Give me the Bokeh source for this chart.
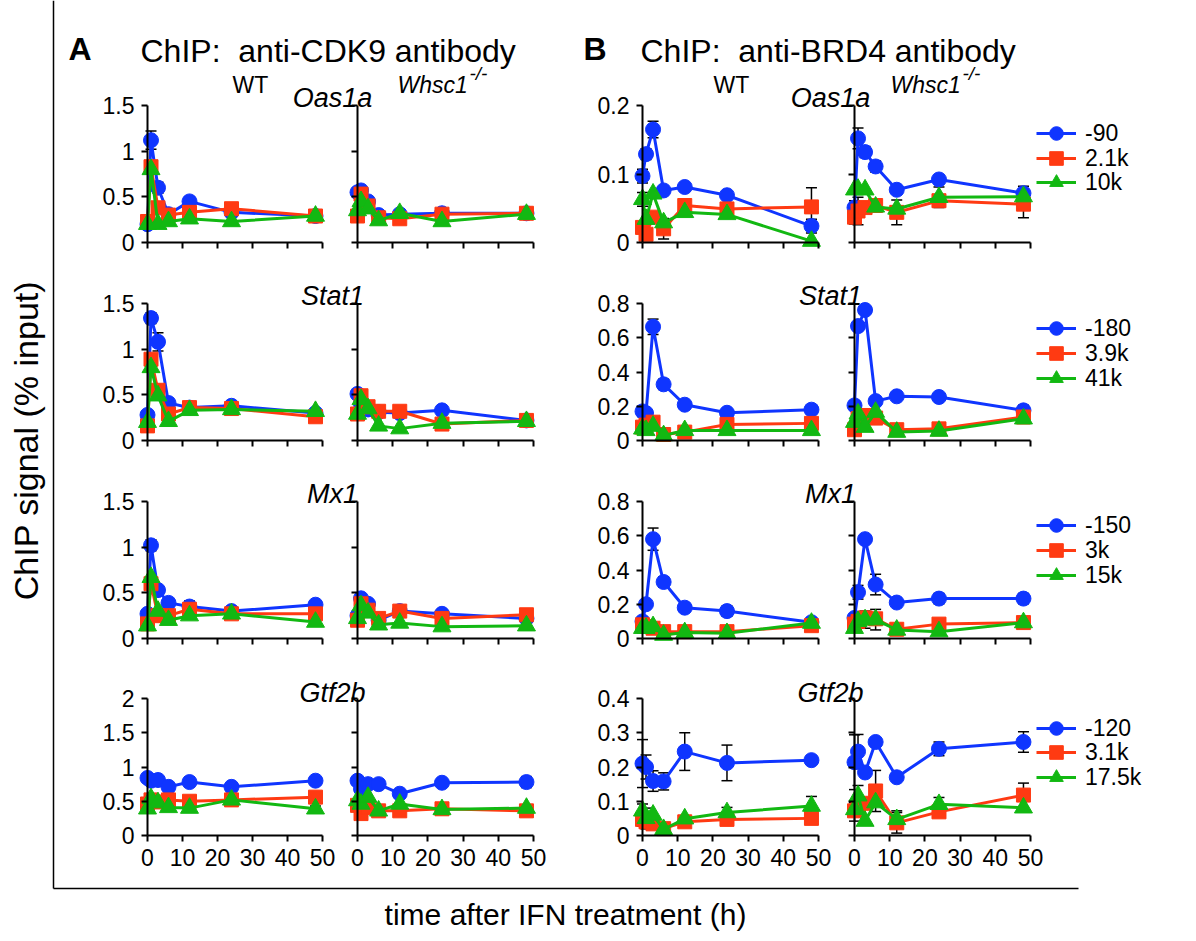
import math
from bokeh.plotting import figure
from bokeh.models import (Range1d, LinearAxis, FixedTicker, ColumnDataSource, Whisker,
                          TeeHead, Label, Legend, LegendItem)
from bokeh.embed import file_html
from bokeh.resources import INLINE

# ---------------- data ----------------
t_hours = [0, 1, 3, 6, 12, 24, 48]
x_ticks = [0, 10, 20, 30, 40, 50]
x_tick_labels = ["0", "10", "20", "30", "40", "50"]

genes = ["Oas1a", "Stat1", "Mx1", "Gtf2b"]
amplicons_oas1a = ["-90", "2.1k", "10k"]
amplicons_stat1 = ["-180", "3.9k", "41k"]
amplicons_mx1 = ["-150", "3k", "15k"]
amplicons_gtf2b = ["-120", "3.1k", "17.5k"]

cdk9_yticks = [0, 0.5, 1, 1.5]
cdk9_ytick_labels = ["0", "0.5", "1", "1.5"]
cdk9_gtf2b_yticks = [0, 0.5, 1, 1.5, 2]
cdk9_gtf2b_ytick_labels = ["0", "0.5", "1", "1.5", "2"]
brd4_oas1a_yticks = [0, 0.1, 0.2]
brd4_oas1a_ytick_labels = ["0", "0.1", "0.2"]
brd4_yticks = [0, 0.2, 0.4, 0.6, 0.8]
brd4_ytick_labels = ["0", "0.2", "0.4", "0.6", "0.8"]
brd4_gtf2b_yticks = [0, 0.1, 0.2, 0.3, 0.4]
brd4_gtf2b_ytick_labels = ["0", "0.1", "0.2", "0.3", "0.4"]

# CDK9 ChIP, WT
cdk9_wt_oas1a = [[0.20, 1.12, 0.60, 0.31, 0.45, 0.33, 0.29],
                 [0.23, 0.83, 0.38, 0.30, 0.33, 0.37, 0.29],
                 [0.20, 0.80, 0.20, 0.23, 0.26, 0.23, 0.29]]
cdk9_wt_oas1a_err = [[0, 0.10, 0.06, 0, 0.05, 0, 0],
                     [0, 0.06, 0, 0, 0, 0.02, 0],
                     [0, 0.05, 0, 0, 0, 0, 0]]
cdk9_wt_stat1 = [[0.28, 1.34, 1.08, 0.41, 0.36, 0.38, 0.30],
                 [0.16, 0.89, 0.55, 0.29, 0.36, 0.35, 0.26],
                 [0.20, 0.80, 0.49, 0.21, 0.33, 0.34, 0.32]]
cdk9_wt_stat1_err = [[0, 0.06, 0.10, 0.05, 0, 0.03, 0],
                     [0, 0.05, 0, 0, 0, 0, 0],
                     [0, 0, 0, 0, 0, 0, 0]]
cdk9_wt_mx1 = [[0.27, 1.02, 0.53, 0.39, 0.35, 0.30, 0.37],
               [0.16, 0.60, 0.25, 0.25, 0.32, 0.27, 0.27],
               [0.14, 0.67, 0.30, 0.20, 0.25, 0.27, 0.18]]
cdk9_wt_mx1_err = [[0, 0.06, 0, 0, 0.06, 0, 0],
                   [0, 0, 0, 0, 0, 0, 0],
                   [0, 0, 0, 0, 0, 0, 0]]
cdk9_wt_gtf2b = [[0.84, 0.80, 0.81, 0.71, 0.78, 0.71, 0.80],
                 [0.46, 0.52, 0.49, 0.52, 0.50, 0.52, 0.56],
                 [0.39, 0.54, 0.48, 0.41, 0.40, 0.52, 0.39]]
cdk9_wt_gtf2b_err = [[0, 0, 0, 0, 0.07, 0, 0.04],
                     [0, 0, 0, 0, 0, 0, 0.05],
                     [0, 0, 0, 0, 0, 0, 0.04]]

# CDK9 ChIP, Whsc1-/-
cdk9_ko_oas1a = [[0.55, 0.57, 0.45, 0.30, 0.31, 0.32, 0.32],
                 [0.29, 0.53, 0.40, 0.27, 0.26, 0.31, 0.32],
                 [0.35, 0.45, 0.37, 0.24, 0.32, 0.23, 0.31]]
cdk9_ko_oas1a_err = [[0.03, 0, 0.05, 0, 0, 0, 0],
                     [0, 0, 0, 0, 0.04, 0, 0],
                     [0, 0, 0, 0, 0, 0, 0]]
cdk9_ko_stat1 = [[0.51, 0.40, 0.34, 0.31, 0.30, 0.33, 0.22],
                 [0.29, 0.49, 0.37, 0.32, 0.32, 0.18, 0.22],
                 [0.29, 0.45, 0.35, 0.16, 0.13, 0.19, 0.21]]
cdk9_ko_stat1_err = [[0.03, 0, 0, 0, 0, 0, 0],
                     [0, 0, 0, 0, 0, 0, 0],
                     [0, 0, 0, 0, 0, 0, 0]]
cdk9_ko_mx1 = [[0.25, 0.44, 0.38, 0.20, 0.30, 0.27, 0.22],
               [0.20, 0.38, 0.31, 0.22, 0.30, 0.22, 0.26],
               [0.22, 0.36, 0.28, 0.15, 0.17, 0.13, 0.14]]
cdk9_ko_mx1_err = [[0.04, 0, 0, 0, 0, 0, 0],
                   [0, 0, 0, 0, 0, 0, 0],
                   [0, 0, 0, 0, 0, 0, 0]]
cdk9_ko_gtf2b = [[0.80, 0.68, 0.75, 0.75, 0.61, 0.77, 0.78],
                 [0.44, 0.32, 0.41, 0.36, 0.36, 0.39, 0.36],
                 [0.51, 0.46, 0.56, 0.36, 0.46, 0.38, 0.40]]
cdk9_ko_gtf2b_err = [[0, 0, 0, 0.05, 0, 0, 0.08],
                     [0, 0, 0, 0, 0, 0, 0],
                     [0, 0, 0, 0, 0, 0, 0.04]]

# BRD4 ChIP, WT
brd4_wt_oas1a = [[0.097, 0.129, 0.165, 0.076, 0.081, 0.069, 0.024],
                 [0.022, 0.012, 0.037, 0.020, 0.054, 0.049, 0.052],
                 [0.063, 0.034, 0.071, 0.029, 0.044, 0.041, 0.002]]
brd4_wt_oas1a_err = [[0.010, 0.008, 0.012, 0, 0, 0, 0.010],
                     [0, 0, 0, 0.015, 0, 0, 0.028],
                     [0.010, 0, 0, 0, 0, 0, 0]]
brd4_wt_stat1 = [[0.17, 0.16, 0.664, 0.328, 0.209, 0.162, 0.18],
                 [0.078, 0.09, 0.107, 0.035, 0.049, 0.094, 0.10],
                 [0.068, 0.059, 0.084, 0.029, 0.059, 0.059, 0.059]]
brd4_wt_stat1_err = [[0.03, 0, 0.045, 0.03, 0, 0, 0],
                     [0, 0.03, 0, 0, 0, 0, 0],
                     [0, 0, 0, 0, 0, 0, 0]]
brd4_wt_mx1 = [[0.10, 0.20, 0.58, 0.33, 0.18, 0.16, 0.095],
               [0.08, 0.07, 0.06, 0.04, 0.04, 0.04, 0.075],
               [0.06, 0.06, 0.07, 0.02, 0.035, 0.03, 0.09]]
brd4_wt_mx1_err = [[0, 0, 0.065, 0.03, 0, 0.03, 0],
                   [0, 0.02, 0, 0, 0, 0, 0],
                   [0, 0, 0, 0, 0, 0, 0]]
brd4_wt_gtf2b = [[0.21, 0.20, 0.159, 0.158, 0.245, 0.212, 0.22],
                 [0.047, 0.04, 0.034, 0.02, 0.04, 0.047, 0.05],
                 [0.072, 0.05, 0.06, 0.018, 0.049, 0.067, 0.086]]
brd4_wt_gtf2b_err = [[0.07, 0.035, 0.03, 0.025, 0.055, 0.052, 0.007],
                     [0.02, 0.02, 0, 0, 0, 0, 0],
                     [0.02, 0.03, 0, 0, 0, 0.015, 0.028]]

# BRD4 ChIP, Whsc1-/-
brd4_ko_oas1a = [[0.051, 0.152, 0.132, 0.111, 0.077, 0.092, 0.072],
                 [0.037, 0.046, 0.051, 0.054, 0.044, 0.061, 0.056],
                 [0.077, 0.078, 0.077, 0.052, 0.049, 0.066, 0.067]]
brd4_ko_oas1a_err = [[0.010, 0.015, 0.008, 0.008, 0, 0, 0.010],
                     [0.010, 0.020, 0, 0, 0.018, 0, 0.020],
                     [0, 0, 0, 0, 0, 0.015, 0]]
brd4_ko_stat1 = [[0.205, 0.668, 0.762, 0.23, 0.258, 0.254, 0.176],
                 [0.063, 0.127, 0.146, 0.131, 0.063, 0.068, 0.137],
                 [0.107, 0.156, 0.078, 0.166, 0.049, 0.055, 0.127]]
brd4_ko_stat1_err = [[0.02, 0, 0, 0, 0, 0, 0.03],
                     [0, 0, 0, 0, 0, 0, 0],
                     [0, 0, 0, 0, 0, 0, 0]]
brd4_ko_mx1 = [[0.12, 0.27, 0.58, 0.315, 0.21, 0.233, 0.233],
               [0.084, 0.10, 0.12, 0.115, 0.054, 0.084, 0.093],
               [0.06, 0.10, 0.11, 0.11, 0.05, 0.04, 0.093]]
brd4_ko_mx1_err = [[0.02, 0.04, 0, 0.06, 0, 0.03, 0.03],
                   [0, 0, 0, 0, 0, 0, 0],
                   [0, 0, 0.05, 0.06, 0, 0, 0]]
brd4_ko_gtf2b = [[0.214, 0.245, 0.184, 0.273, 0.17, 0.253, 0.273],
                 [0.072, 0.081, 0.094, 0.13, 0.037, 0.069, 0.118],
                 [0.076, 0.116, 0.042, 0.096, 0.047, 0.091, 0.081]]
brd4_ko_gtf2b_err = [[0.08, 0.05, 0, 0, 0, 0.02, 0.03],
                     [0.03, 0, 0, 0.06, 0.03, 0, 0.035],
                     [0.02, 0.03, 0, 0, 0.025, 0.02, 0]]

# ---------------- layout / style ----------------
W, H = 1196, 941
FONT = "Liberation Sans"
COLORS = ["#0F35FF", "#FF3A12", "#12B812"]
MARKERS = [("circle", 15), ("square", 14), ("triangle", 18)]
COLS = [(147, 322), (357, 533), (642, 818), (854, 1030)]   # pixel of t=0, t=50
ROWS = [(242, 105), (440, 303), (638, 501), (835, 698)]    # pixel of y=0, y=max

p = figure(width=W, height=H, x_range=Range1d(0, W), y_range=Range1d(H, 0),
           x_axis_type=None, y_axis_type=None, output_backend="svg",
           toolbar_location=None, min_border=0, outline_line_color=None)

panels = [
    # (row, col, values, errors, yticks, ytick labels)
    (0, 0, cdk9_wt_oas1a, cdk9_wt_oas1a_err, cdk9_yticks, cdk9_ytick_labels),
    (0, 1, cdk9_ko_oas1a, cdk9_ko_oas1a_err, cdk9_yticks, cdk9_ytick_labels),
    (0, 2, brd4_wt_oas1a, brd4_wt_oas1a_err, brd4_oas1a_yticks, brd4_oas1a_ytick_labels),
    (0, 3, brd4_ko_oas1a, brd4_ko_oas1a_err, brd4_oas1a_yticks, brd4_oas1a_ytick_labels),
    (1, 0, cdk9_wt_stat1, cdk9_wt_stat1_err, cdk9_yticks, cdk9_ytick_labels),
    (1, 1, cdk9_ko_stat1, cdk9_ko_stat1_err, cdk9_yticks, cdk9_ytick_labels),
    (1, 2, brd4_wt_stat1, brd4_wt_stat1_err, brd4_yticks, brd4_ytick_labels),
    (1, 3, brd4_ko_stat1, brd4_ko_stat1_err, brd4_yticks, brd4_ytick_labels),
    (2, 0, cdk9_wt_mx1, cdk9_wt_mx1_err, cdk9_yticks, cdk9_ytick_labels),
    (2, 1, cdk9_ko_mx1, cdk9_ko_mx1_err, cdk9_yticks, cdk9_ytick_labels),
    (2, 2, brd4_wt_mx1, brd4_wt_mx1_err, brd4_yticks, brd4_ytick_labels),
    (2, 3, brd4_ko_mx1, brd4_ko_mx1_err, brd4_yticks, brd4_ytick_labels),
    (3, 0, cdk9_wt_gtf2b, cdk9_wt_gtf2b_err, cdk9_gtf2b_yticks, cdk9_gtf2b_ytick_labels),
    (3, 1, cdk9_ko_gtf2b, cdk9_ko_gtf2b_err, cdk9_gtf2b_yticks, cdk9_gtf2b_ytick_labels),
    (3, 2, brd4_wt_gtf2b, brd4_wt_gtf2b_err, brd4_gtf2b_yticks, brd4_gtf2b_ytick_labels),
    (3, 3, brd4_ko_gtf2b, brd4_ko_gtf2b_err, brd4_gtf2b_yticks, brd4_gtf2b_ytick_labels),
]
legend_labels = [amplicons_oas1a, amplicons_stat1, amplicons_mx1, amplicons_gtf2b]
legend_item_y = [[133, 158, 182], [328, 353, 378], [525, 550, 575], [728, 752, 777]]


def style_axis(ax, show_labels):
    ax.axis_line_width = 2
    ax.axis_line_color = "black"
    ax.major_tick_line_width = 2
    ax.major_tick_line_color = "black"
    ax.major_tick_out = 6
    ax.major_tick_in = 0
    ax.minor_tick_line_color = None
    ax.major_label_text_font = FONT
    ax.major_label_text_font_size = "23px"
    ax.major_label_text_color = "black" if show_labels else None
    ax.major_label_standoff = 7


legend_renderers = {}
for (r, c, vals, errs, yticks, ylabels) in panels:
    x0px, x50px = COLS[c]
    y0px, ytpx = ROWS[r]
    ymax = yticks[-1]
    sx = (x50px - x0px) / 50.0
    sy = (y0px - ytpx) / ymax
    xs = -x0px / sx
    ys = -(H - y0px) / sy
    xr, yr = f"x{r}{c}", f"y{r}{c}"
    p.extra_x_ranges[xr] = Range1d(xs, xs + W / sx)
    p.extra_y_ranges[yr] = Range1d(ys, ys + H / sy)

    yax = LinearAxis(x_range_name=xr, y_range_name=yr, fixed_location=0,
                     bounds=(0, ymax), ticker=FixedTicker(ticks=yticks),
                     major_label_overrides={v: l for v, l in zip(yticks, ylabels)})
    style_axis(yax, c in (0, 2))
    p.add_layout(yax, "left")
    xax = LinearAxis(x_range_name=xr, y_range_name=yr, fixed_location=0,
                     bounds=(0, 50), ticker=FixedTicker(ticks=x_ticks),
                     major_label_overrides={v: l for v, l in zip(x_ticks, x_tick_labels)})
    style_axis(xax, r == 3)
    p.add_layout(xax, "below")

    rends = []
    for k in range(3):
        ev = errs[k]
        sel = [i for i in range(len(t_hours)) if ev[i] > 0]
        if sel:
            esrc = ColumnDataSource(dict(x=[t_hours[i] for i in sel],
                                         up=[vals[k][i] + ev[i] for i in sel],
                                         lo=[vals[k][i] - ev[i] for i in sel]))
            wh = Whisker(source=esrc, base="x", upper="up", lower="lo", dimension="height",
                         x_range_name=xr, y_range_name=yr, line_width=1.5, line_color="black",
                         upper_head=TeeHead(size=11, line_width=1.5, line_color="black"),
                         lower_head=TeeHead(size=11, line_width=1.5, line_color="black"))
            p.add_layout(wh)
    for k in range(3):
        src = ColumnDataSource(dict(x=t_hours, y=vals[k]))
        lr = p.line("x", "y", source=src, line_color=COLORS[k], line_width=3,
                    x_range_name=xr, y_range_name=yr)
        mk, ms = MARKERS[k]
        sr = p.scatter("x", "y", source=src, marker=mk, size=ms, fill_color=COLORS[k],
                       line_color=COLORS[k], x_range_name=xr, y_range_name=yr)
        rends.append([lr, sr])
    if c == 3:
        legend_renderers[r] = rends

# legends: one small legend per entry so that the row pitch matches
GH = 34
for r in range(4):
    for k in range(3):
        item = LegendItem(label=legend_labels[r][k], renderers=legend_renderers[r][k])
        cy = legend_item_y[r][k]
        lg = Legend(items=[item], location=(1036, H - (cy + GH / 2)), orientation="vertical",
                    glyph_width=40, glyph_height=GH, label_height=GH, spacing=0,
                    padding=0, margin=0, label_standoff=9,
                    label_text_font=FONT, label_text_font_size="23px",
                    label_text_color="black",
                    border_line_color=None, background_fill_alpha=0)
        p.add_layout(lg)

# outer L frame
lax = LinearAxis(fixed_location=53, bounds=(0, 888), ticker=FixedTicker(ticks=[]),
                 axis_line_width=1.5, axis_line_color="black",
                 major_tick_line_color=None, minor_tick_line_color=None)
p.add_layout(lax, "left")
bax = LinearAxis(fixed_location=888, bounds=(53, 1078), ticker=FixedTicker(ticks=[]),
                 axis_line_width=1.5, axis_line_color="black",
                 major_tick_line_color=None, minor_tick_line_color=None)
p.add_layout(bax, "below")


def lab(x, y, text, size, style="normal", align="left", baseline="alphabetic", angle=0):
    p.add_layout(Label(x=x, y=y, text=text, text_font=FONT, text_font_size=size,
                       text_font_style=style, text_align=align, text_baseline=baseline,
                       angle=angle, text_color="black"))


lab(25, 440, "ChIP signal (% input)", "34px", align="center", baseline="middle",
    angle=math.pi / 2)
lab(565, 914, "time after IFN treatment (h)", "30px", align="center", baseline="middle")

lab(68, 48, "A", "32px", style="bold")
lab(140, 50, "ChIP:\u00a0 anti-CDK9 antibody", "32px")
lab(583, 48, "B", "32px", style="bold")
lab(640, 50, "ChIP:\u00a0 anti-BRD4 antibody", "32px")

for cx_wt, x_ko in ((250, 397), (731, 890)):
    lab(cx_wt, 84, "WT", "23px", align="center")
    lab(x_ko, 84, "Whsc1", "23px", style="italic")
    lab(x_ko + 72, 73, "-/-", "19px", style="italic")

gene_baselines = [97, 295, 493, 692]
for r in range(4):
    lab(332, gene_baselines[r], genes[r], "27px", style="italic", align="center")
    lab(830, gene_baselines[r], genes[r], "27px", style="italic", align="center")

open("out.html", "w").write(file_html(p, INLINE))
